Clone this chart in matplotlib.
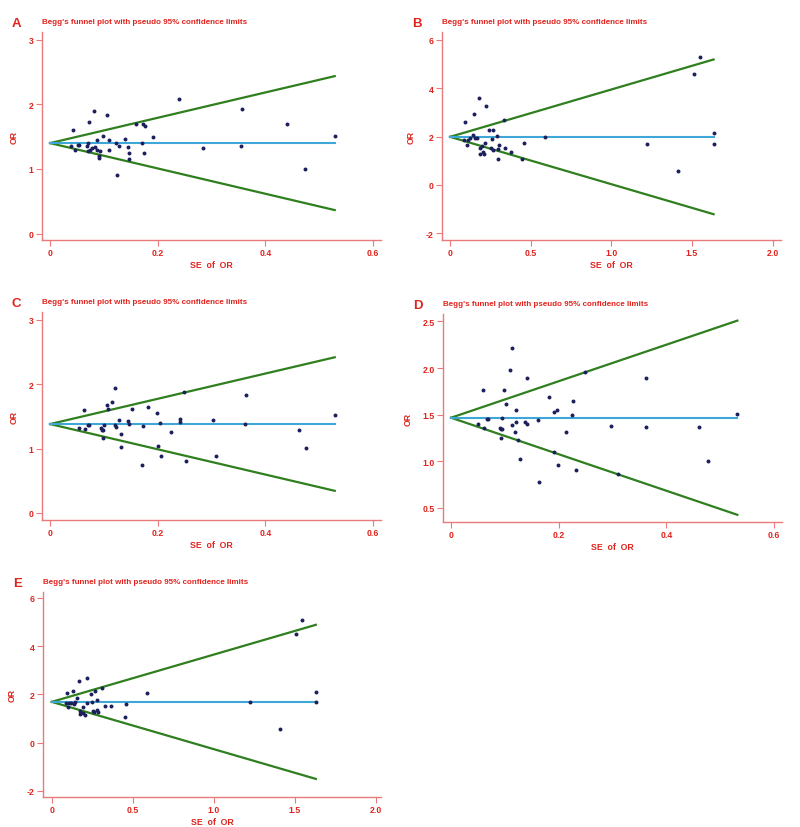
import matplotlib
matplotlib.use("Agg")
import matplotlib.pyplot as plt

# colori stile Stata
ROSSO = "#e0241e"
ROSSO_ASSE = "#e87a7a"
VERDE = "#2f7f1f"
AZZURRO = "#3fa7d8"
PUNTI = "#1b1f5c"

TITOLO = "Begg's funnel plot with pseudo 95% confidence limits"

# Pannello A
se_a = [0.038, 0.043, 0.046, 0.051, 0.053, 0.069, 0.071, 0.071, 0.073, 0.075, 0.077, 0.082,
        0.084, 0.087, 0.087, 0.090, 0.090, 0.093, 0.098, 0.106, 0.109, 0.110, 0.123, 0.124,
        0.128, 0.140, 0.144, 0.147, 0.147, 0.160, 0.170, 0.173, 0.176, 0.175, 0.191, 0.240,
        0.285, 0.355, 0.357, 0.441, 0.474, 0.529]
or_a = [1.35, 1.60, 1.30, 1.37, 1.37, 1.35, 1.40, 1.28, 1.72, 1.30, 1.32, 1.90,
        1.34, 1.45, 1.30, 1.20, 1.17, 1.28, 1.51, 1.83, 1.45, 1.30, 1.40, 0.90,
        1.36, 1.46, 1.34, 1.24, 1.16, 1.69, 1.40, 1.69, 1.66, 1.25, 1.49, 2.08,
        1.33, 1.35, 1.93, 1.69, 1.00, 1.51]
theta_a = 1.40

# Pannello B
se_b = [0.089, 0.095, 0.103, 0.114, 0.124, 0.140, 0.149, 0.157, 0.165, 0.178, 0.186, 0.186,
        0.196, 0.202, 0.211, 0.217, 0.225, 0.244, 0.252, 0.260, 0.264, 0.269, 0.291, 0.302,
        0.300, 0.300, 0.337, 0.339, 0.378, 0.448, 0.459, 0.587, 1.223, 1.415, 1.510, 1.550,
        1.634, 1.634]
or_b = [1.86, 2.59, 1.67, 1.85, 1.93, 2.07, 2.92, 1.94, 1.94, 3.59, 1.53, 1.30,
        1.61, 1.38, 1.27, 1.74, 3.28, 2.29, 1.54, 1.92, 2.29, 1.45, 2.04, 1.66,
        1.49, 1.08, 2.69, 1.52, 1.38, 1.06, 1.72, 1.99, 1.71, 0.58, 4.61, 5.28,
        2.14, 1.70]
theta_b = 1.99

# Pannello C
se_c = [0.053, 0.063, 0.065, 0.071, 0.072, 0.095, 0.097, 0.098, 0.098, 0.100, 0.105, 0.107,
        0.115, 0.120, 0.120, 0.123, 0.128, 0.131, 0.131, 0.144, 0.147, 0.153, 0.170, 0.173,
        0.182, 0.198, 0.201, 0.204, 0.206, 0.225, 0.241, 0.242, 0.248, 0.253, 0.302, 0.308,
        0.362, 0.364, 0.462, 0.476, 0.529]
or_c = [1.32, 1.60, 1.31, 1.37, 1.37, 1.32, 1.28, 1.17, 1.28, 1.36, 1.67, 1.62,
        1.73, 1.94, 1.37, 1.34, 1.44, 1.22, 1.02, 1.43, 1.38, 1.61, 0.74, 1.35,
        1.65, 1.55, 1.04, 1.40, 0.89, 1.26, 1.46, 1.41, 1.88, 0.80, 1.45, 0.88,
        1.38, 1.83, 1.29, 1.01, 1.52]
theta_c = 1.38

# Pannello D
se_d = [0.050, 0.059, 0.061, 0.066, 0.069, 0.091, 0.093, 0.092, 0.094, 0.095, 0.098, 0.103,
        0.109, 0.114, 0.114, 0.118, 0.120, 0.121, 0.124, 0.128, 0.137, 0.142, 0.142, 0.162,
        0.163, 0.182, 0.191, 0.192, 0.196, 0.198, 0.214, 0.224, 0.227, 0.233, 0.248, 0.297,
        0.310, 0.363, 0.363, 0.461, 0.478, 0.532]
or_d = [1.40, 1.765, 1.36, 1.457, 1.457, 1.36, 1.34, 1.25, 1.46, 1.345, 1.765, 1.61,
        1.975, 2.21, 1.39, 1.31, 1.42, 1.55, 1.23, 1.02, 1.42, 1.89, 1.395, 1.44,
        0.78, 1.69, 1.53, 1.10, 1.545, 0.96, 1.31, 1.50, 1.65, 0.90, 1.96, 1.38,
        0.865, 1.89, 1.37, 1.37, 1.00, 1.51]
theta_d = 1.466

# Pannello E
se_e = [0.091, 0.088, 0.099, 0.109, 0.119, 0.134, 0.136, 0.146, 0.156, 0.169, 0.177, 0.175,
        0.193, 0.195, 0.203, 0.216, 0.218, 0.241, 0.251, 0.253, 0.263, 0.267, 0.276, 0.278,
        0.288, 0.311, 0.327, 0.366, 0.449, 0.457, 0.586, 1.220, 1.407, 1.504, 1.543, 1.628,
        1.628]
or_e = [2.06, 1.66, 1.46, 1.66, 1.66, 2.14, 1.61, 1.67, 1.83, 2.55, 1.32, 1.20,
        1.49, 1.23, 1.13, 2.69, 1.63, 2.00, 1.70, 1.32, 1.26, 2.15, 1.78, 1.35,
        1.26, 2.26, 1.53, 1.53, 1.06, 1.61, 2.04, 1.68, 0.57, 4.50, 5.08, 2.10,
        1.67]
theta_e = 1.69

W, H = 800, 828


def pannello(fig, box, lettera, se, orv, theta, xlim, ylim, xticks, xlab, yticks, ylab):
    l, t, r, b = box
    ax = fig.add_axes([l / W, 1 - b / H, (r - l) / W, (b - t) / H])
    se_max = max(se)
    xs = [0, se_max]
    # limiti pseudo 95% e stima combinata
    ax.plot(xs, [theta - 1.96 * s for s in xs], color=VERDE, lw=1.6, zorder=2)
    ax.plot(xs, [theta + 1.96 * s for s in xs], color=VERDE, lw=1.6, zorder=2)
    ax.plot(xs, [theta, theta], color=AZZURRO, lw=1.5, zorder=2)
    ax.scatter(se, orv, s=8, color=PUNTI, zorder=3, linewidths=0)
    ax.set_xlim(*xlim)
    ax.set_ylim(*ylim)
    ax.set_xticks(xticks)
    ax.set_xticklabels(xlab)
    ax.set_yticks(yticks)
    ax.set_yticklabels(ylab)
    for lato in ["top", "right"]:
        ax.spines[lato].set_visible(False)
    for lato in ["left", "bottom"]:
        ax.spines[lato].set_color(ROSSO_ASSE)
        ax.spines[lato].set_linewidth(1.0)
    ax.tick_params(colors=ROSSO_ASSE, labelcolor=ROSSO, labelsize=6.3, length=4, width=0.8,
                   direction="out", pad=2)
    for lab in ax.get_xticklabels() + ax.get_yticklabels():
        lab.set_fontweight("bold")
    ax.set_xlabel("SE  of  OR", color=ROSSO, fontsize=6.3, fontweight="bold", labelpad=2)
    ax.set_ylabel("OR", color=ROSSO, fontsize=6.3, fontweight="bold", labelpad=7)
    fig.text(l / W, 1 - (t - 10) / H, TITOLO, color=ROSSO, fontsize=5.8, fontweight="bold",
             va="center", ha="left")
    fig.text((l - 30) / W, 1 - (t - 9) / H, lettera, color=ROSSO, fontsize=9.5, fontweight="bold",
             va="center", ha="left")
    return ax


plt.rcParams["font.family"] = ["Liberation Sans", "DejaVu Sans"]
fig = plt.figure(figsize=(8, 8.28), dpi=100)

tick06 = [0, 0.2, 0.4, 0.6]
lab06 = ["0", "0.2", "0.4", "0.6"]
tick2 = [0, 0.5, 1.0, 1.5, 2.0]
lab2 = ["0", "0.5", "1.0", "1.5", "2.0"]

pannello(fig, (42, 33, 381, 241), "A", se_a, or_a, theta_a, (-0.015, 0.615), (-0.10, 3.12),
         tick06, lab06, [0, 1, 2, 3], ["0", "1", "2", "3"])
pannello(fig, (442, 33, 781, 241), "B", se_b, or_b, theta_b, (-0.05, 2.052), (-2.28, 6.33),
         tick2, lab2, [-2, 0, 2, 4, 6], ["-2", "0", "2", "4", "6"])
pannello(fig, (42, 313, 381, 521), "C", se_c, or_c, theta_c, (-0.015, 0.615), (-0.11, 3.12),
         tick06, lab06, [0, 1, 2, 3], ["0", "1", "2", "3"])
pannello(fig, (443, 315, 782, 523), "D", se_d, or_d, theta_d, (-0.015, 0.615), (0.346, 2.58),
         tick06, lab06, [0.5, 1.0, 1.5, 2.0, 2.5], ["0.5", "1.0", "1.5", "2.0", "2.5"])
pannello(fig, (43, 593, 381, 798), "E", se_e, or_e, theta_e, (-0.054, 2.03), (-2.25, 6.24),
         tick2, lab2, [-2, 0, 2, 4, 6], ["-2", "0", "2", "4", "6"])

fig.savefig("out.png", dpi=100, facecolor="white")
